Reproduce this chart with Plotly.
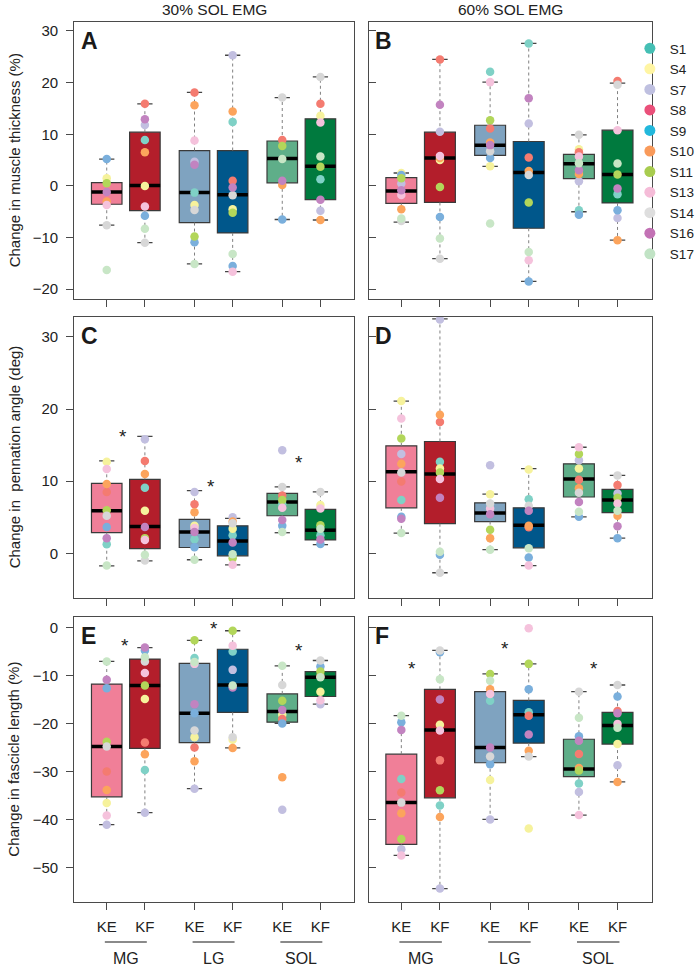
import plotly.graph_objects as go
from plotly.subplots import make_subplots

# box positions: KE/KF pairs for MG, LG, SOL
positions = [1, 2, 3.3, 4.3, 5.6, 6.6]
knee = ['KE', 'KF', 'KE', 'KF', 'KE', 'KF']
muscles = ['MG', 'LG', 'SOL']
subjects = ['S1', 'S4', 'S7', 'S8', 'S9', 'S10', 'S11', 'S13', 'S14', 'S16', 'S17']

box_colors = ['#f07f98', '#b31e2b', '#7fa3c0', '#00578b', '#5fae89', '#007a3e']
point_colors = ['#7fd1c6', '#f6f29c', '#c2bfe0', '#f47b70', '#7aafdc', '#fca45c',
                '#b2d65a', '#f5c2dc', '#d7d7d7', '#c283c0', '#c8e6c6']
legend_colors = ['#45bfb4', '#fff5a3', '#bfc0e0', '#ea507a', '#22b8dc', '#f99a5a',
                 '#a8cc4f', '#f5bcd8', '#dedede', '#c372b5', '#c1e3c5']

# ---- A: muscle thickness, 30% ----
A_q1 = [-3.55, -4.8, -7.1, -9.1, 0.6, -2.65]
A_med = [-1.16, 0.06, -1.3, -1.7, 5.3, 3.8]
A_q3 = [0.65, 10.4, 6.85, 6.85, 8.7, 13.0]
A_lo = [-7.6, -11.0, -15.1, -16.6, -6.5, -6.6]
A_hi = [5.2, 15.9, 18.1, 25.3, 17.1, 21.1]
A_pts = {
    'S1': [None, 8.9, -1.3, 12.4, None, 1.3],
    'S4': [1.5, 0.0, -3.7, -4.5, None, 13.6],
    'S7': [None, 11.8, 4.7, 25.3, None, -4.8],
    'S8': [None, 15.9, 18.1, 1.0, 8.9, 15.9],
    'S9': [5.2, -5.8, -10.9, -15.5, -6.5, None],
    'S10': [-3.0, 6.5, 15.6, 14.4, 0.2, -6.6],
    'S11': [0.5, None, -9.8, -5.2, 7.75, 3.7],
    'S13': [-3.7, -4.0, 8.8, -16.6, None, 12.3],
    'S14': [-7.6, -11.0, -4.65, -1.8, 17.1, 21.1],
    'S16': [-1.2, 12.9, 4.1, -0.3, 1.0, -2.7],
    'S17': [-16.3, -8.3, -15.1, -13.2, 5.2, 5.7],
}

# ---- B: muscle thickness, 60% ----
B_q1 = [-3.4, -3.2, 5.9, -8.2, 1.4, -3.3]
B_med = [-1.0, 5.4, 7.85, 2.6, 4.3, 2.2]
B_q3 = [1.6, 10.4, 11.75, 8.6, 6.1, 10.8]
B_lo = [-7.0, -14.1, 3.8, -18.5, -5.0, -10.5]
B_hi = [2.5, 24.5, 20.1, 27.6, 9.9, 19.9]
B_pts = {
    'S1': [None, None, 22.1, 27.6, -4.7, -1.6],
    'S4': [2.5, 5.0, 3.8, None, 7.1, None],
    'S7': [0.45, 10.5, None, 12.1, 0.9, -6.2],
    'S8': [None, 24.5, 11.1, 5.5, 6.5, 20.3],
    'S9': [2.1, -6.0, 5.4, -18.5, -5.6, -4.7],
    'S10': [-4.5, 5.4, 8.4, 2.9, 2.3, -10.5],
    'S11': [1.5, -0.2, 12.7, -3.2, None, 2.2],
    'S13': [-1.75, 5.8, 20.1, -14.4, 5.7, 10.8],
    'S14': [-6.8, -14.1, 6.7, 2.1, 9.9, 19.6],
    'S16': [-0.85, 15.7, 7.9, 17.0, 3.05, -0.5],
    'S17': [-6.3, -10.2, -7.3, -12.8, 4.4, 4.35],
}

# ---- C: pennation angle, 30% ----
C_q1 = [2.85, 0.65, 0.8, -0.35, 5.2, 1.85]
C_med = [5.9, 3.7, 2.95, 1.7, 7.1, 3.2]
C_q3 = [9.7, 10.25, 4.7, 3.8, 8.3, 6.1]
C_lo = [-1.75, -1.05, -0.9, -1.6, 2.85, 1.2]
C_hi = [12.8, 16.2, 8.7, 4.85, 9.2, 8.5]
C_pts = {
    'S1': [1.25, 9.1, 1.95, 2.5, 6.8, 2.5],
    'S4': [12.7, 5.9, 3.8, 3.4, None, 6.7],
    'S7': [None, 15.8, 8.5, 5.0, 14.3, None],
    'S8': [8.5, 12.8, 6.8, None, 8.0, None],
    'S9': [3.65, None, 0.85, None, 3.8, 1.3],
    'S10': [9.6, 11.0, 5.7, 4.4, None, None],
    'S11': [5.95, 2.1, None, -0.7, 7.4, 3.9],
    'S13': [11.7, 1.85, 3.5, -1.6, 6.3, 6.2],
    'S14': [5.2, -1.0, None, 4.15, 9.2, 8.5],
    'S16': [2.1, 3.65, 2.95, 1.5, 4.6, 1.9],
    'S17': [-1.7, -0.2, -0.9, -0.15, 2.95, 3.4],
}
C_star_x = [1.42, 3.73, 6.03]
C_star_y = [16.8, 9.8, 13.2]

# ---- D: pennation angle, 60% ----
D_q1 = [6.3, 4.1, 4.4, 0.75, 7.8, 5.65]
D_med = [11.3, 11.0, 5.6, 3.9, 10.3, 7.4]
D_q3 = [14.9, 15.5, 7.0, 6.3, 12.4, 8.85]
D_lo = [2.8, -2.7, 0.5, -1.7, 5.05, 2.1]
D_hi = [21.1, 32.5, 8.2, 11.75, 14.7, 10.8]
D_pts = {
    'S1': [7.4, 12.7, None, 7.5, None, None],
    'S4': [21.1, 11.75, 8.2, 11.6, 11.75, None],
    'S7': [13.75, 32.4, 12.2, None, 12.9, 8.3],
    'S8': [9.95, 18.2, None, 3.6, 10.2, 9.45],
    'S9': [5.05, -0.2, None, -0.6, 5.05, 2.1],
    'S10': [12.4, 19.2, 2.1, 3.8, 9.0, 5.2],
    'S11': [15.9, 11.2, 3.25, None, 13.75, 7.7],
    'S13': [18.7, 10.3, 6.2, -1.7, 14.7, 6.9],
    'S14': [11.2, -2.7, 6.9, 6.6, 8.4, 10.8],
    'S16': [4.8, 7.7, 5.4, 5.9, 7.1, 3.75],
    'S17': [2.8, 0.2, 0.5, 0.7, 5.75, 5.9],
}

# ---- E: fascicle length, 30% ----
E_q1 = [-35.2, -25.1, -23.9, -17.6, -19.65, -14.3]
E_med = [-24.7, -12.0, -17.8, -11.9, -17.4, -10.3]
E_q3 = [-11.7, -6.5, -7.4, -4.45, -13.75, -9.1]
E_lo = [-41.0, -38.5, -33.5, -25.0, -19.9, -15.9]
E_hi = [-7.0, -4.1, -2.6, -0.6, -7.9, -6.8]
E_pts = {
    'S1': [None, -29.6, -6.3, -4.9, None, None],
    'S4': [-36.5, -14.8, -22.8, -23.3, -18.1, -13.3],
    'S7': [-41.0, -38.5, -33.5, -8.75, -37.9, -15.9],
    'S8': [-29.9, -23.9, -24.9, None, -19.0, -10.1],
    'S9': [-12.6, -4.7, -17.8, None, -19.9, -8.05],
    'S10': [-33.75, -26.3, -27.8, -25.0, -31.1, None],
    'S11': [-23.7, -12.0, -2.6, -0.6, -15.2, -9.1],
    'S13': [-39.1, -9.4, -7.5, -3.7, None, -15.1],
    'S14': [-24.7, -7.0, -21.4, -22.8, -11.9, -6.8],
    'S16': [-10.8, -4.1, -15.9, -12.4, -17.1, None],
    'S17': [-7.0, -6.1, -7.1, -12.0, -7.9, -10.3],
}
E_star_x = [1.47, 3.82, 6.04]
E_star_y = [-2.85, 0.6, -3.9]

# ---- F: fascicle length, 60% ----
F_q1 = [-45.1, -35.4, -28.1, -24.0, -31.0, -24.2]
F_med = [-36.4, -21.3, -24.9, -18.1, -29.4, -20.35]
F_q3 = [-26.3, -12.8, -13.3, -15.1, -23.2, -17.6]
F_lo = [-47.4, -54.3, -39.9, -26.8, -39.0, -32.1]
F_hi = [-18.3, -4.7, -9.6, -7.5, -13.3, -11.9]
F_pts = {
    'S1': [-31.5, -37.0, -15.2, -17.6, -32.4, None],
    'S4': [None, -20.2, -31.7, -41.8, None, -24.2],
    'S7': [-46.1, -54.3, -39.9, None, -34.2, -28.6],
    'S8': [-34.3, -27.6, None, -18.3, -26.25, -17.3],
    'S9': [-19.65, -5.1, -28.4, -12.8, -22.6, -14.3],
    'S10': [-38.6, -39.4, -12.8, -25.6, -29.2, -32.1],
    'S11': [-44.0, -33.8, -9.6, -7.5, -29.7, None],
    'S13': [-47.4, -21.4, -13.75, -0.1, -39.0, -20.0],
    'S14': [-36.4, -4.7, -26.8, -26.8, -13.3, -11.9],
    'S16': [-21.25, -14.9, -24.9, -22.2, -23.5, -17.8],
    'S17': [-18.3, -10.7, -11.0, None, -18.7, -20.8],
}
F_star_x = [1.27, 3.68, 6.0]
F_star_y = [-7.7, -3.4, -7.7]

panels = [
    ('A', A_q1, A_med, A_q3, A_lo, A_hi, A_pts, [], []),
    ('B', B_q1, B_med, B_q3, B_lo, B_hi, B_pts, [], []),
    ('C', C_q1, C_med, C_q3, C_lo, C_hi, C_pts, C_star_x, C_star_y),
    ('D', D_q1, D_med, D_q3, D_lo, D_hi, D_pts, [], []),
    ('E', E_q1, E_med, E_q3, E_lo, E_hi, E_pts, E_star_x, E_star_y),
    ('F', F_q1, F_med, F_q3, F_lo, F_hi, F_pts, F_star_x, F_star_y),
]

FONT = 'Liberation Sans, Arial, sans-serif'
FRAME = '#4a4a4a'
W, H = 695, 968


def px_x(p):
    return p / W


def px_y(p):
    return 1 - p / H


fig = make_subplots(rows=3, cols=2)

for k, (letter, q1, med, q3, lo, hi, pts, sx, sy) in enumerate(panels):
    row = k // 2 + 1
    col = k % 2 + 1

    for i in range(6):
        fig.add_trace(go.Box(x=[positions[i]], q1=[q1[i]], median=[med[i]], q3=[q3[i]],
                             lowerfence=[q1[i]], upperfence=[q3[i]], width=0.8,
                             fillcolor=box_colors[i], line=dict(color='#3a3a3a', width=1.2),
                             whiskerwidth=0, showlegend=False, hoverinfo='skip'),
                      row=row, col=col)

    # dashed whiskers, caps and thick medians
    wx, wy, cx, cy, mx, my = [], [], [], [], [], []
    for i in range(6):
        p = positions[i]
        wx += [p, p, None, p, p, None]
        wy += [q3[i], hi[i], None, q1[i], lo[i], None]
        cx += [p - 0.2, p + 0.2, None, p - 0.2, p + 0.2, None]
        cy += [hi[i], hi[i], None, lo[i], lo[i], None]
        mx += [p - 0.4, p + 0.4, None]
        my += [med[i], med[i], None]
    fig.add_trace(go.Scatter(x=wx, y=wy, mode='lines', showlegend=False, hoverinfo='skip',
                             line=dict(color='#808080', width=1, dash='3px,3px')),
                  row=row, col=col)
    fig.add_trace(go.Scatter(x=cx, y=cy, mode='lines', showlegend=False, hoverinfo='skip',
                             line=dict(color='#444444', width=1.3)),
                  row=row, col=col)
    fig.add_trace(go.Scatter(x=mx, y=my, mode='lines', showlegend=False, hoverinfo='skip',
                             line=dict(color='black', width=3.5)),
                  row=row, col=col)

    # subject points
    for s, c in zip(subjects, point_colors):
        xs = [positions[i] for i in range(6) if pts[s][i] is not None]
        ys = [v for v in pts[s] if v is not None]
        fig.add_trace(go.Scatter(x=xs, y=ys, mode='markers', showlegend=False, name=s,
                                 marker=dict(color=c, size=8.5)),
                      row=row, col=col)

    # significance stars
    xname = 'x' if k == 0 else 'x' + str(k + 1)
    yname = 'y' if k == 0 else 'y' + str(k + 1)
    for x_s, y_s in zip(sx, sy):
        fig.add_annotation(x=x_s, y=y_s, xref=xname, yref=yname, text='*', showarrow=False,
                           yshift=-4, font=dict(size=19, color='#222222', family=FONT))

    # panel letter
    fig.add_annotation(x=0, y=1, xref=xname + ' domain', yref=yname + ' domain', text='<b>' + letter + '</b>',
                       showarrow=False, xanchor='left', yanchor='top', xshift=5, yshift=-4,
                       font=dict(size=23, color='#1a1a1a', family=FONT))

# legend-only entries
for s, c in zip(subjects, legend_colors):
    fig.add_trace(go.Scatter(x=[None], y=[None], mode='markers', name=s,
                             marker=dict(color=c, size=11)), row=1, col=2)

xdom = [[px_x(74.3), px_x(354)], [px_x(368.5), px_x(651.5)]]
ydom = [[px_y(299), px_y(21.7)], [px_y(598), px_y(316.7)], [px_y(902), px_y(617.3)]]
yranges = [[-21.9, 31.8], [-6.2, 32.8], [-57.1, 2.2]]
yticks = [[-20, -10, 0, 10, 20, 30], [0, 10, 20, 30], [-50, -40, -30, -20, -10, 0]]

for k in range(6):
    row = k // 2
    col = k % 2
    fig.update_xaxes(domain=xdom[col], range=[0.15, 7.48], showgrid=False, zeroline=False,
                     showline=True, mirror=True, linecolor=FRAME, linewidth=1.2,
                     ticks='outside', ticklen=7, tickcolor=FRAME, tickvals=positions,
                     ticktext=knee, showticklabels=(row == 2), ticklabelstandoff=4,
                     tickfont=dict(size=15, color='#222222', family=FONT), automargin=False,
                     row=row + 1, col=col + 1)
    fig.update_yaxes(domain=ydom[row], range=yranges[row], showgrid=False, zeroline=False,
                     showline=True, mirror=True, linecolor=FRAME, linewidth=1.2,
                     ticks='outside' if col == 0 else 'inside', ticklen=7, tickcolor=FRAME,
                     tickvals=yticks[row], showticklabels=(col == 0), ticklabelstandoff=5,
                     tickfont=dict(size=15, color='#222222', family=FONT), automargin=False,
                     row=row + 1, col=col + 1)

# y-axis titles
ytitles = ['Change in muscle thickness (%)', 'Change in \u00a0pennation angle (deg)',
           'Change in fascicle length (%)']
for t, yn in zip(ytitles, ['y', 'y3', 'y5']):
    fig.add_annotation(x=px_x(14), y=0.5, xref='paper', yref=yn + ' domain', text=t, textangle=-90,
                       xanchor='center', yanchor='middle', showarrow=False,
                       font=dict(size=15, color='#222222', family=FONT))

# column headers
for xn, yn, t in [('x', 'y', '30% SOL EMG'), ('x2', 'y2', '60% SOL EMG')]:
    fig.add_annotation(x=0.5, y=1, xref=xn + ' domain', yref=yn + ' domain', text=t, showarrow=False,
                       xanchor='center', yanchor='bottom', yshift=2,
                       font=dict(size=15.5, color='#222222', family=FONT))

# muscle group labels with underline under the bottom row
for xn, yn in [('x5', 'y5'), ('x6', 'y6')]:
    for m in range(3):
        p0 = positions[2 * m]
        p1 = positions[2 * m + 1]
        fig.add_shape(type='line', x0=p0 - 0.05, x1=p1 + 0.05, y0=-0.1405, y1=-0.1405,
                      xref=xn, yref=yn + ' domain', line=dict(color='#8a8a8a', width=2))
        fig.add_annotation(x=(p0 + p1) / 2, y=-0.197, xref=xn, yref=yn + ' domain', text=muscles[m],
                           xanchor='center', yanchor='middle', showarrow=False,
                           font=dict(size=16, color='#222222', family=FONT))

fig.update_layout(width=W, height=H, margin=dict(l=0, r=0, t=0, b=0, autoexpand=False),
                  plot_bgcolor='white', paper_bgcolor='white',
                  font=dict(family=FONT, color='#222222'),
                  showlegend=True,
                  legend=dict(x=1.007, y=px_y(33), xanchor='right', yanchor='top',
                              font=dict(size=13.5, color='#222222', family=FONT),
                              bgcolor='rgba(0,0,0,0)', tracegroupgap=0, itemwidth=30))

# drop the default 8px page margin so the figure fills the window exactly
fig.write_html('out.html', config={'displayModeBar': False},
               post_script="document.body.style.margin = '0px';")
